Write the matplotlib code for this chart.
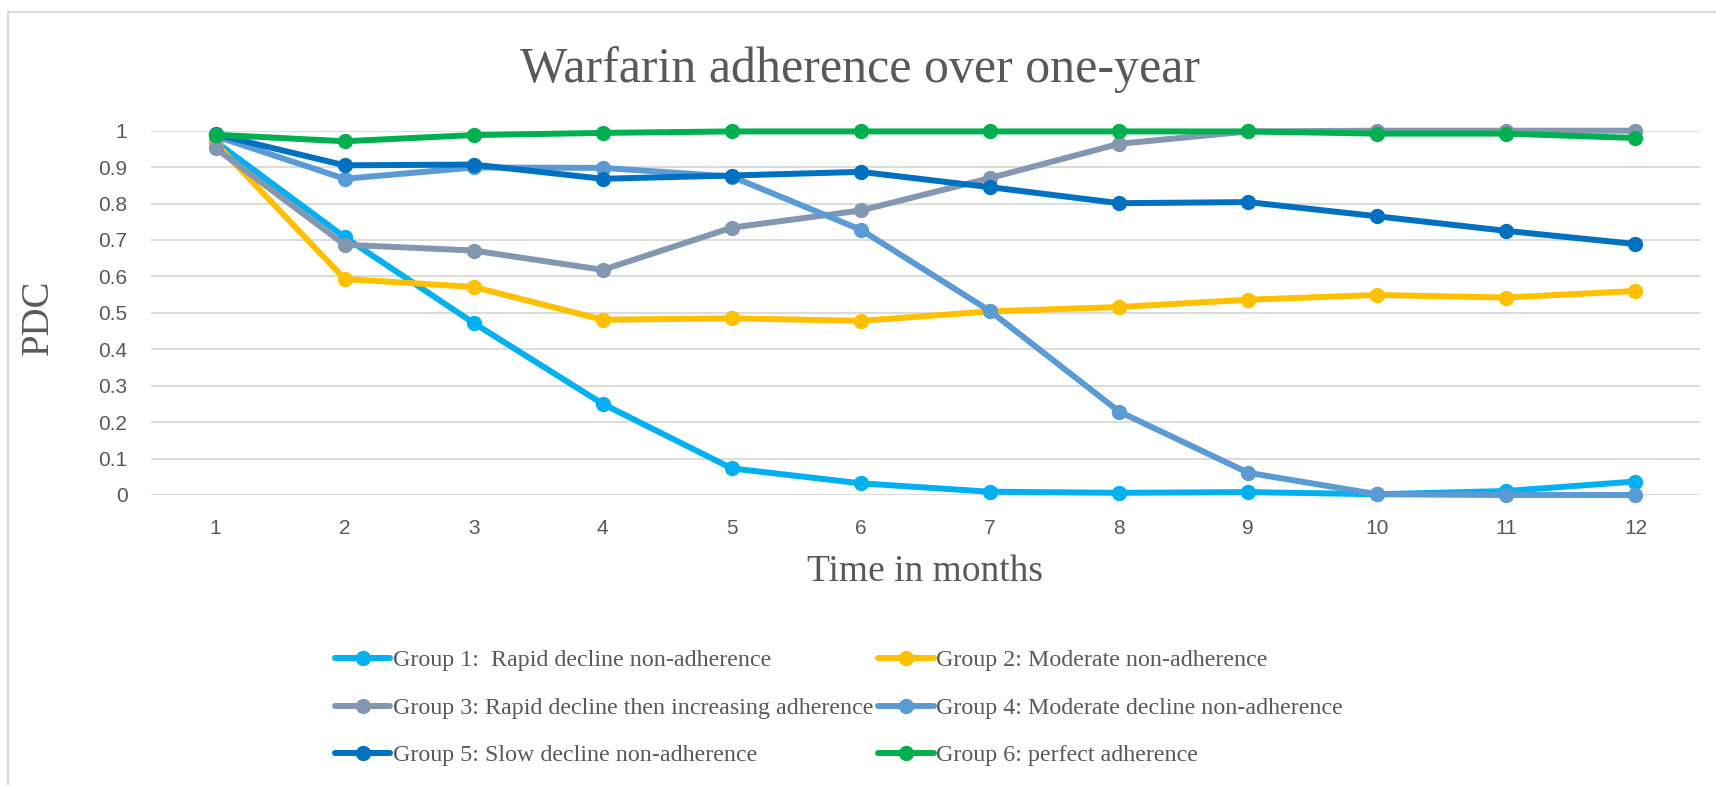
import matplotlib.pyplot as plt
from matplotlib.lines import Line2D

months = [1, 2, 3, 4, 5, 6, 7, 8, 9, 10, 11, 12]

group1 = [0.97, 0.708, 0.472, 0.25, 0.073, 0.032, 0.009, 0.006, 0.008, 0.002, 0.011, 0.037]
group2 = [0.966, 0.593, 0.571, 0.481, 0.485, 0.478, 0.504, 0.516, 0.536, 0.549, 0.542, 0.56]
group3 = [0.952, 0.687, 0.671, 0.618, 0.734, 0.781, 0.87, 0.964, 0.998, 1.0, 1.0, 1.0]
group4 = [0.985, 0.868, 0.899, 0.898, 0.874, 0.728, 0.505, 0.229, 0.061, 0.002, 0.0, 0.0]
group5 = [0.99, 0.905, 0.907, 0.868, 0.877, 0.887, 0.845, 0.801, 0.804, 0.765, 0.725, 0.689]
group6 = [0.989, 0.971, 0.988, 0.994, 0.998, 0.998, 0.998, 0.998, 0.998, 0.992, 0.992, 0.98]

labels = [
    "Group 1:  Rapid decline non-adherence",
    "Group 2: Moderate non-adherence",
    "Group 3: Rapid decline then increasing adherence",
    "Group 4: Moderate decline non-adherence",
    "Group 5: Slow decline non-adherence",
    "Group 6: perfect adherence",
]
colors = ["#00B0F0", "#FFC000", "#8497B0", "#5B9BD5", "#0070C0", "#00B050"]

serif = ["Liberation Serif", "DejaVu Serif"]
narrow = ["Liberation Sans Narrow", "Liberation Sans", "DejaVu Sans"]
txt = "#595959"

fig = plt.figure(figsize=(17.16, 7.85), dpi=100)
ax = fig.add_axes([151 / 1716, 1 - 495 / 785, (1700 - 151) / 1716, (495 - 130.7) / 785])

series = [group1, group2, group3, group4, group5, group6]
handles = []
for vals, col, lab in zip(series, colors, labels):
    h, = ax.plot(months, vals, color=col, lw=4.3, marker="o", ms=10, label=lab,
                 clip_on=False, solid_capstyle="round")
    handles.append(h)

ax.set_xlim(0.5, 12.5)
ax.set_ylim(0, 1)
ax.set_xticks(months)
ax.set_yticks([i / 10 for i in range(11)])
ax.set_yticklabels(["0", "0.1", "0.2", "0.3", "0.4", "0.5", "0.6", "0.7", "0.8", "0.9", "1"])
for lbl in ax.get_xticklabels() + ax.get_yticklabels():
    lbl.set_family(narrow)
    lbl.set_fontsize(15)
    lbl.set_color(txt)
ax.tick_params(axis="both", length=0)
ax.tick_params(axis="y", pad=17)
ax.tick_params(axis="x", pad=17)
ax.grid(axis="y", color="#D9D9D9", lw=1.3)
ax.set_axisbelow(True)
for s in ax.spines.values():
    s.set_visible(False)

fig.text(860 / 1716, 1 - 70 / 785, "Warfarin adherence over one-year", family=serif,
         fontsize=36, color=txt, ha="center", va="center")
fig.text(38 / 1716, 1 - 317 / 785, "PDC", family=serif, fontsize=28, color=txt,
         ha="center", va="center", rotation=90)
fig.text(925 / 1716, 1 - 572 / 785, "Time in months", family=serif, fontsize=27,
         color=txt, ha="center", va="center")

# legend filled row by row, like the original
order = [0, 2, 4, 1, 3, 5]
leg = fig.legend([handles[i] for i in order], [labels[i] for i in order],
                 loc="center left", bbox_to_anchor=(335 / 1716, 1 - 708 / 785), ncol=2,
                 frameon=False, prop={"family": serif, "size": 17.3}, handlelength=2.3,
                 handletextpad=0.12, columnspacing=0.2, labelspacing=1.07,
                 borderaxespad=0, borderpad=0)
for t in leg.get_texts():
    t.set_color(txt)

# chart border (top and left only)
fig.add_artist(Line2D([8 / 1716, 1], [1 - 12 / 785] * 2, color="#D9D9D9", lw=1.5))
fig.add_artist(Line2D([8 / 1716] * 2, [0, 1 - 12 / 785], color="#D9D9D9", lw=1.5))

fig.savefig("out.png", dpi=100)
